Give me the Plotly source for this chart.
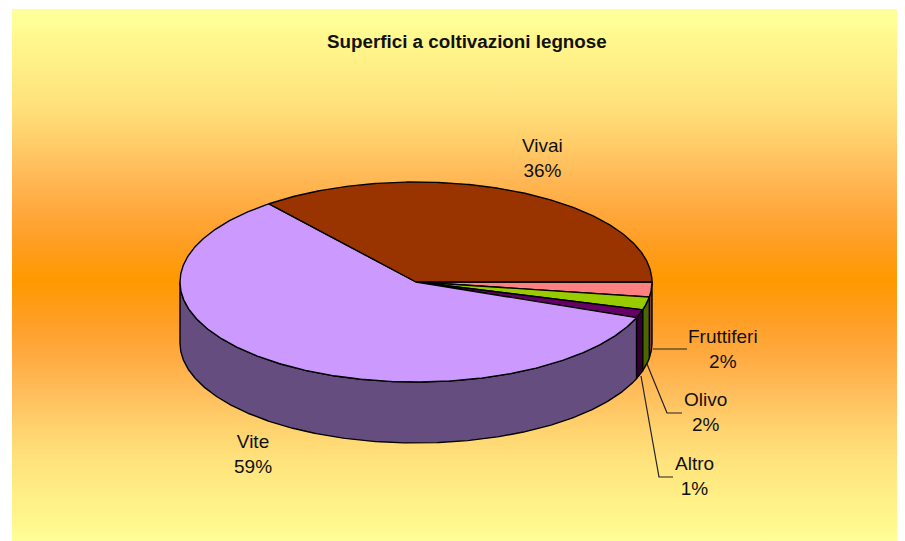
import numpy as np
import plotly.graph_objects as go

# Data
categories = ["Fruttiferi", "Olivo", "Altro", "Vite", "Vivai"]
values = [2.4, 2.1, 1.3, 58.5, 35.7]
percent_labels = ["2%", "2%", "1%", "59%", "36%"]

# Style
top_colors = ["#FF8080", "#99CC00", "#660066", "#CC99FF", "#993300"]
side_colors = ["#804040", "#4D6600", "#330033", "#664D80", "#4D1A00"]

# Layout constants (pixels of the 905x541 page; the page body adds an 8px margin)
W, H, PAGE_MARGIN = 905, 541, 8
CX, CY, RX, RY, DEPTH = 416, 282, 236, 100, 61
BG = dict(x0=12, x1=905, y0=9, y1=541)
LINE_W = 1.4
# Background colour by page row
BG_ROWS = [9, 20, 34, 69, 103, 138, 172, 207, 241, 281, 321, 355, 390, 424, 459, 493, 528, 541]
BG_COLS = ["#FFFF99", "#FFFF99", "#FFF98F", "#FFEE85", "#FFE27C", "#FFD06C", "#FFBC5A", "#FFAA40",
           "#FF9E25", "#FF9900", "#FF9E25", "#FFAA40", "#FFBC5A", "#FFD06C", "#FFE27C", "#FFEE85",
           "#FFF98F", "#FFFF99"]


def arc(t0, t1, dy=0.0):
    n = max(2, int(abs(t1 - t0) * 2) + 1)
    t = np.radians(np.linspace(t0, t1, n))
    return CX + RX * np.cos(t), CY + dy + RY * np.sin(t)


fig = go.Figure()

# Background gradient
fig.add_trace(go.Scatter(
    x=[BG["x0"], BG["x1"], BG["x1"], BG["x0"], BG["x0"]],
    y=[BG["y0"], BG["y0"], BG["y1"], BG["y1"], BG["y0"]],
    mode="lines", line=dict(width=0), fill="toself",
    fillgradient=dict(
        type="vertical", start=BG["y0"], stop=BG["y1"],
        colorscale=[[(r - BG["y0"]) / (BG["y1"] - BG["y0"]), c] for r, c in zip(BG_ROWS, BG_COLS)]),
    hoverinfo="skip", showlegend=False))

# Slice angles (clockwise on screen from east)
total = sum(values)
edges = np.concatenate([[0], np.cumsum(values)]) / total * 360

# Side walls
for i in range(len(values)):
    a, b = edges[i], min(edges[i + 1], 180)
    if a >= 180:
        continue
    x1, y1 = arc(a, b)
    x2, y2 = arc(b, a, DEPTH)
    fig.add_trace(go.Scatter(
        x=np.r_[x1, x2, x1[0]], y=np.r_[y1, y2, y1[0]],
        mode="lines", fill="toself", fillcolor=side_colors[i],
        line=dict(color="black", width=LINE_W),
        hoverinfo="skip", showlegend=False))

# Top wedges
for i in range(len(values)):
    x1, y1 = arc(edges[i], edges[i + 1])
    fig.add_trace(go.Scatter(
        x=np.r_[CX, x1, CX], y=np.r_[CY, y1, CY],
        mode="lines", fill="toself", fillcolor=top_colors[i],
        line=dict(color="black", width=LINE_W),
        name=categories[i], hoverinfo="skip", showlegend=False))

# Leader lines
leaders = [
    ([653, 687], [349, 349]),
    ([647, 667, 682], [364, 413, 413]),
    ([641, 659, 673], [376, 477, 477]),
]
for lx, ly in leaders:
    fig.add_trace(go.Scatter(x=lx, y=ly, mode="lines",
                             line=dict(color="#222222", width=1.2),
                             hoverinfo="skip", showlegend=False))

# Labels
label_pos = [(723, 349), (705, 412), (694, 476), (253, 454), (542, 158)]
annotations = [
    dict(x=px, y=py, xref="x", yref="y", showarrow=False, align="center",
         text=f"{c}<br>{p}", font=dict(family="Liberation Sans", size=19, color="#111111"))
    for c, p, (px, py) in zip(categories, percent_labels, label_pos)
]
annotations.append(dict(
    x=467, y=41, xref="x", yref="y", showarrow=False,
    text="<b>Superfici a coltivazioni legnose</b>",
    font=dict(family="Liberation Sans", size=18.8, color="#111111")))

fig.update_layout(
    width=W - PAGE_MARGIN, height=H - PAGE_MARGIN, autosize=False,
    margin=dict(l=0, r=0, t=0, b=0),
    paper_bgcolor="white", plot_bgcolor="rgba(0,0,0,0)",
    xaxis=dict(range=[PAGE_MARGIN, W], visible=False, fixedrange=True),
    yaxis=dict(range=[H, PAGE_MARGIN], visible=False, fixedrange=True),
    annotations=annotations, showlegend=False,
)
fig.write_html("out.html", config={"displayModeBar": False})
